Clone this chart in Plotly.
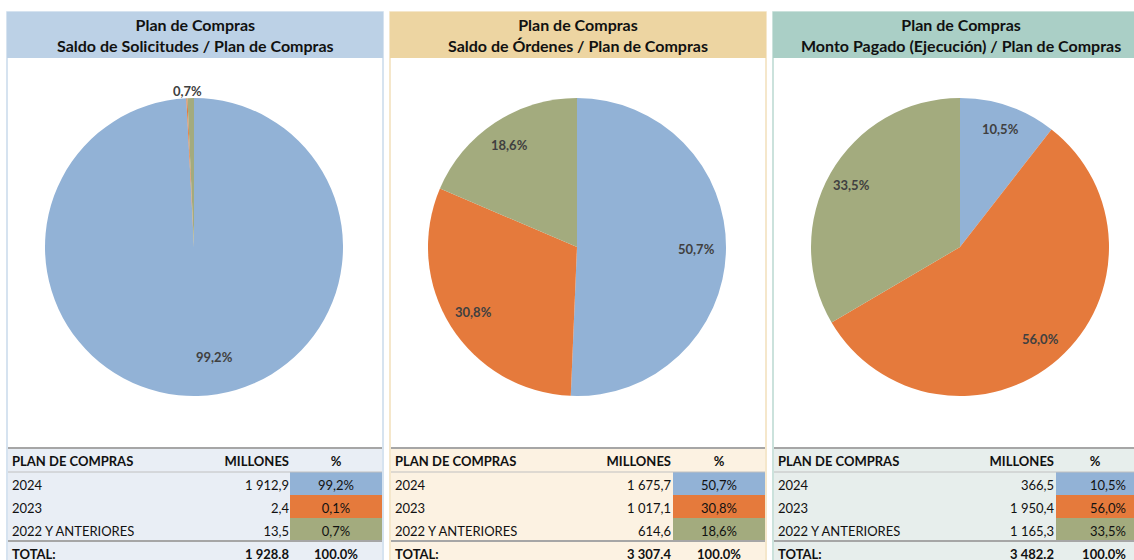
import math
import plotly.graph_objects as go

W, H = 1134, 560

# ---------------- data ----------------
categories = ["2024", "2023", "2022 Y ANTERIORES"]
titles = ["Saldo de Solicitudes / Plan de Compras",
          "Saldo de Órdenes / Plan de Compras",
          "Monto Pagado (Ejecución) / Plan de Compras"]
millones_solicitudes = [1912.9, 2.4, 13.5]
millones_ordenes = [1675.7, 1017.1, 614.6]
millones_pagado = [366.5, 1950.4, 1165.3]
pct_solicitudes = [99.2, 0.1, 0.7]
pct_ordenes = [50.7, 30.8, 18.6]
pct_pagado = [10.5, 56.0, 33.5]
total_millones = ["1 928.8", "3 307.4", "3 482.2"]
total_pct = ["100.0%", "100.0%", "100.0%"]
millones_text_solicitudes = ["1 912,9", "2,4", "13,5"]
millones_text_ordenes = ["1 675,7", "1 017,1", "614,6"]
millones_text_pagado = ["366,5", "1 950,4", "1 165,3"]

# ---------------- style ----------------
FONT = "Lato"
slice_colors = ["#92B2D6", "#E57A3C", "#A3AB7E"]
header_colors = ["#BCD1E6", "#EDD5A2", "#AACFC6"]
border_colors = ["#C9DAEC", "#F2E0BB", "#BBD9D1"]
table_bg = ["#E9EEF5", "#FCF2E2", "#E7EEEC"]
CLEAR = "rgba(0,0,0,0)"
# label radius (fraction of pie radius) per slice; 0 = no label, >1 = outside
label_k = [[0.74, 0, 1.05], [0.8, 0.82, 0.82], [0.84, 0.82, 0.84]]
label_dx = [[18, 0, -3], [0, 0, 0], [0, 0, 0]]

panel_left = [7, 390, 773]
panel_w = 376
header_top, header_bot = 12, 58
pie_cy, pie_r = 247, 149
pie_cx_off = 187
table_top = 448
hdr_h, row_h = 24, 23
PAD = 8  # plotly table cell padding

def px(x):
    return x / W

def py(y):
    return 1 - y / H

fig = go.Figure()
shapes = []
annotations = []

panels = [
    (millones_solicitudes, pct_solicitudes, millones_text_solicitudes),
    (millones_ordenes, pct_ordenes, millones_text_ordenes),
    (millones_pagado, pct_pagado, millones_text_pagado),
]

def fmt_pct(v):
    return f"{v:.1f}%".replace(".", ",")

total_top = table_top + hdr_h + 3 * row_h

for i, (vals, pcts, mtexts) in enumerate(panels):
    x0 = panel_left[i]
    x1 = x0 + panel_w
    # panel frame
    shapes.append(dict(type="rect", xref="paper", yref="paper",
                       x0=px(x0), x1=px(x1), y0=py(H + 5), y1=py(header_top),
                       fillcolor="white", line=dict(color=border_colors[i], width=1.5),
                       layer="below"))
    shapes.append(dict(type="rect", xref="paper", yref="paper",
                       x0=px(x0), x1=px(x1), y0=py(header_bot), y1=py(header_top),
                       fillcolor=header_colors[i], line=dict(width=0), layer="below"))
    shapes.append(dict(type="rect", xref="paper", yref="paper",
                       x0=px(x0 + 1), x1=px(x1 - 1), y0=py(H + 5), y1=py(table_top),
                       fillcolor=table_bg[i], line=dict(width=0), layer="below"))
    annotations.append(dict(xref="paper", yref="paper", x=px((x0 + x1) / 2),
                            y=py((header_top + header_bot) / 2), showarrow=False,
                            text="<b>Plan de Compras</b><br><b>" + titles[i] + "</b>",
                            font=dict(family=FONT, size=16, color="#111111"),
                            align="center", xanchor="center", yanchor="middle"))

    # pie
    cx = x0 + pie_cx_off
    fig.add_trace(go.Pie(
        values=vals, labels=categories, sort=False, direction="clockwise",
        rotation=0, textinfo="none", hoverinfo="label+value+percent",
        marker=dict(colors=slice_colors, line=dict(width=0)),
        domain=dict(x=[px(cx - pie_r), px(cx + pie_r)],
                    y=[py(pie_cy + pie_r), py(pie_cy - pie_r)]),
        showlegend=False))

    # slice labels positioned from the data angles
    total = sum(vals)
    cum = 0.0
    for v, p, k, dx in zip(vals, pcts, label_k[i], label_dx[i]):
        mid = (cum + v / 2) / total * 2 * math.pi
        cum += v
        if not k:
            continue
        lx = cx + k * pie_r * math.sin(mid)
        ly = pie_cy - k * pie_r * math.cos(mid)
        annotations.append(dict(xref="paper", yref="paper", x=px(lx), y=py(ly),
                                xshift=dx, showarrow=False,
                                text="<b>" + fmt_pct(p) + "</b>",
                                font=dict(family=FONT, size=13, color="#404040"),
                                xanchor="center", yanchor="middle"))

    a0 = x0 + 5 - PAD
    a1 = x0 + 282 + PAD
    b0 = x0 + 283
    b1 = min(x0 + 375, W)
    clipped = x0 + 375 > W
    pct_align = "right" if clipped else "center"
    body_y = [py(total_top), py(table_top)]
    total_y = [0, py(total_top)]

    # label + millones columns (transparent, over the panel background)
    fig.add_trace(go.Table(
        domain=dict(x=[px(a0), px(a1)], y=body_y),
        columnwidth=[200, a1 - a0 - 200],
        header=dict(values=["PLAN DE COMPRAS", "MILLONES"],
                    align=["left", "right"], height=hdr_h,
                    fill=dict(color=CLEAR), line=dict(width=0, color=CLEAR),
                    font=dict(family=FONT, size=13, color="#111111", weight="bold")),
        cells=dict(values=[categories, mtexts],
                   align=["left", "right"], height=row_h,
                   fill=dict(color=CLEAR), line=dict(width=0, color=CLEAR),
                   font=dict(family=FONT, size=13, color="#111111"))))
    # % column with coloured cells
    fig.add_trace(go.Table(
        domain=dict(x=[px(b0), px(b1)], y=body_y),
        columnwidth=[1],
        header=dict(values=["%"], align="center", height=hdr_h,
                    fill=dict(color=table_bg[i]), line=dict(width=0, color=table_bg[i]),
                    font=dict(family=FONT, size=13, color="#111111", weight="bold")),
        cells=dict(values=[[fmt_pct(p) for p in pcts]],
                   align=pct_align, height=row_h,
                   fill=dict(color=[slice_colors]),
                   line=dict(width=0, color=table_bg[i]),
                   font=dict(family=FONT, size=13, color="#111111"))))
    # total row (rendered as a bold header row of its own table)
    fig.add_trace(go.Table(
        domain=dict(x=[px(a0), px(a1)], y=total_y),
        columnwidth=[200, a1 - a0 - 200],
        header=dict(values=["TOTAL:", total_millones[i]],
                    align=["left", "right"], height=row_h,
                    fill=dict(color=CLEAR), line=dict(width=0, color=CLEAR),
                    font=dict(family=FONT, size=13, color="#111111", weight="bold")),
        cells=dict(values=[[], []], fill=dict(color=CLEAR),
                   line=dict(width=0, color=CLEAR))))
    fig.add_trace(go.Table(
        domain=dict(x=[px(b0), px(b1)], y=total_y),
        columnwidth=[1],
        header=dict(values=[total_pct[i]], align=pct_align, height=row_h,
                    fill=dict(color=CLEAR), line=dict(width=0, color=CLEAR),
                    font=dict(family=FONT, size=13, color="#111111", weight="bold")),
        cells=dict(values=[[]], fill=dict(color=CLEAR),
                   line=dict(width=0, color=CLEAR))))

    # horizontal rules of the table
    for yy, wd, col in [(table_top, 2, "#A6A6A6"),
                        (table_top + hdr_h, 1, "#C0C0C0"),
                        (total_top, 2, "#A6A6A6")]:
        shapes.append(dict(type="line", xref="paper", yref="paper",
                           x0=px(x0 + 1), x1=px(min(x1 - 1, W)), y0=py(yy), y1=py(yy),
                           line=dict(color=col, width=wd), layer="above"))

fig.update_layout(width=W, height=H, margin=dict(l=0, r=0, t=0, b=0),
                  paper_bgcolor="white", plot_bgcolor="white",
                  shapes=shapes, annotations=annotations,
                  font=dict(family=FONT))
fig.write_html("out.html", config={"displayModeBar": False},
               post_script="document.body.style.margin='0px';"
                           "document.body.style.overflow='hidden';")
